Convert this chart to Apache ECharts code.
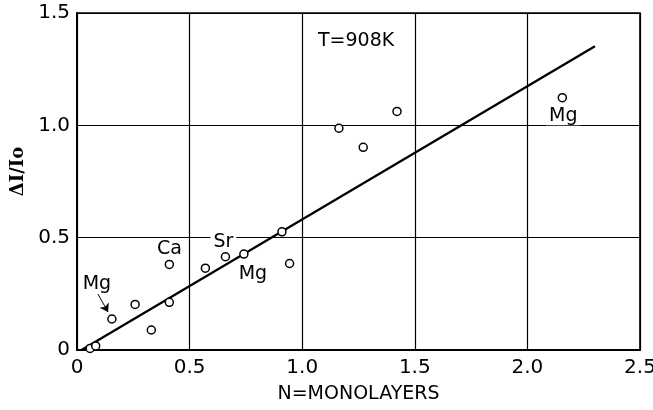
<!DOCTYPE html>
<html><head><meta charset="utf-8">
<script src="https://cdn.jsdelivr.net/npm/echarts@6/dist/echarts.min.js"></script>
<style>html,body{margin:0;padding:0;background:#fff}#c{width:653px;height:410px}</style>
</head><body><div id="c"></div>
<script>
// Data
const pointX = [0.058, 0.083, 0.155, 0.258, 0.33, 0.41, 0.41, 0.57, 0.659, 0.741, 0.91, 0.944, 1.163, 1.271, 1.421, 2.155];
const pointY = [0.007, 0.018, 0.138, 0.203, 0.089, 0.381, 0.212, 0.364, 0.415, 0.427, 0.526, 0.385, 0.987, 0.902, 1.062, 1.123];
const pointTag = ['', '', 'Mg', '', '', 'Ca', '', '', 'Sr', 'Mg', '', '', '', '', '', 'Mg'];
const fitX = [0.02, 2.30];
const fitY = [0.0, 1.352];
const xTicks = [0, 0.5, 1.0, 1.5, 2.0, 2.5];
const yTicks = [0, 0.5, 1.0, 1.5];
const arrowFrom = [0.093, 0.249];
const arrowTo = [0.138, 0.169];

const FONT = 'DejaVu Sans';
const labelOffsets = {2: [-15, -35], 5: [0, -15], 8: [-2, -15], 9: [9, 20], 15: [1, 18]};

const scatterData = pointX.map((x, i) => {
  const d = {value: [x, pointY[i]]};
  if (pointTag[i]) {
    d.label = {
      show: true, formatter: pointTag[i], position: 'inside',
      offset: labelOffsets[i], color: '#000', fontFamily: FONT, fontSize: 19,
      textBorderWidth: 0, textBorderColor: 'transparent', opacity: 1,
      backgroundColor: '#fff', padding: [0, 3]
    };
  }
  return d;
});

const fmt = v => (v === 0 ? '0' : v.toFixed(1));

const chart = echarts.init(document.getElementById('c'), null, {renderer: 'canvas'});
chart.setOption({
  animation: false,
  backgroundColor: '#fff',
  title: {
    text: 'T=908K', left: 313, top: 27,
    textStyle: {fontFamily: FONT, fontSize: 19, fontWeight: 'normal', color: '#000'}
  },
  grid: {left: 77, right: 13, top: 13, bottom: 60, show: true, borderColor: '#000', borderWidth: 1.6,
         backgroundColor: 'transparent', outerBoundsMode: 'none', containLabel: false},
  xAxis: {
    type: 'value', min: xTicks[0], max: xTicks[xTicks.length - 1], interval: 0.5,
    name: 'N=MONOLAYERS', nameLocation: 'middle', nameGap: 35,
    nameTextStyle: {fontFamily: FONT, fontSize: 19, color: '#000'},
    axisLine: {lineStyle: {color: '#000', width: 2}},
    axisTick: {show: false},
    axisLabel: {formatter: fmt, fontFamily: FONT, fontSize: 20, color: '#000', margin: 8},
    splitLine: {show: true, lineStyle: {color: '#000', width: 1.2}}
  },
  yAxis: {
    type: 'value', min: yTicks[0], max: yTicks[yTicks.length - 1], interval: 0.5,
    name: 'ΔI/Io', nameLocation: 'middle', nameGap: 50,
    nameTextStyle: {fontFamily: 'DejaVu Serif', fontSize: 18, color: '#000', fontWeight: 'bold', padding: [0, 0, 0, 20]},
    axisLine: {show: true, lineStyle: {color: '#000', width: 2}},
    axisTick: {show: false},
    axisLabel: {formatter: fmt, fontFamily: FONT, fontSize: 20, color: '#000', margin: 7},
    splitLine: {show: true, lineStyle: {color: '#000', width: 1.2}}
  },
  series: [
    {
      type: 'line', data: fitX.map((x, i) => [x, fitY[i]]), showSymbol: false, symbol: 'none',
      lineStyle: {color: '#000', width: 2.3}, z: 2,
      markLine: {
        silent: true, symbol: ['none', 'arrow'], symbolSize: 8,
        lineStyle: {color: '#000', width: 1, type: 'solid'}, label: {show: false},
        data: [[{coord: arrowFrom}, {coord: arrowTo}]]
      }
    },
    {
      type: 'scatter', data: scatterData, symbol: 'circle', symbolSize: 8,
      itemStyle: {color: '#fff', borderColor: '#000', borderWidth: 1.5, opacity: 1}, z: 5
    }
  ]
});
</script></body></html>
